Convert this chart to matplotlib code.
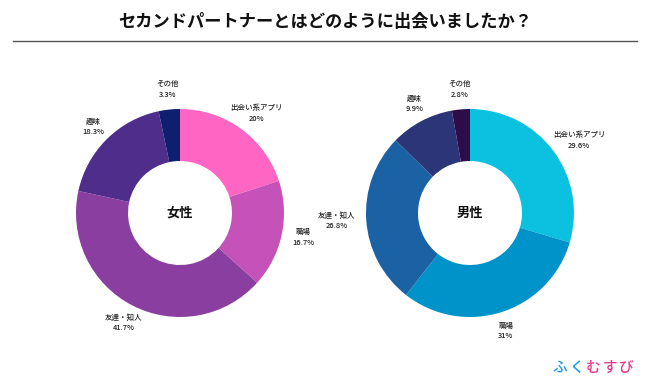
import numpy as np
import matplotlib
matplotlib.use("Agg")
import matplotlib.pyplot as plt

plt.rcParams['font.family'] = ['Noto Sans CJK JP', 'DejaVu Sans']

title = "セカンドパートナーとはどのように出会いましたか？"
categories = ["出会い系アプリ", "職場", "友達・知人", "趣味", "その他"]
female_vals = [20, 16.7, 41.7, 18.3, 3.3]
female_pct = ["20%", "16.7%", "41.7%", "18.3%", "3.3%"]
male_vals = [29.6, 31, 26.8, 9.9, 2.8]
male_pct = ["29.6%", "31%", "26.8%", "9.9%", "2.8%"]

female_colors = ["#FF66C4", "#C452B8", "#8A3FA0", "#4F2D8A", "#0D1F6E"]
male_colors = ["#0CC0DF", "#0093C9", "#1A62A3", "#2B3578", "#2E0C4A"]

W, H = 650, 390
fig = plt.figure(figsize=(6.5, 3.9), dpi=100)
ax = fig.add_axes([0, 0, 1, 1])

fig.text(0.5, 1 - 22 / H, title, ha='center', va='center',
         fontsize=12.4, fontweight='bold', color='#111111')
ax.plot([13, 637], [H - 41, H - 41], color='#555555', lw=1)

R = 104
label_r = 115


def donut(cx, cy, vals, colors, pct, center_text):
    wedges, _ = ax.pie(vals, colors=colors, startangle=90, counterclock=False,
                       radius=R, center=(cx, cy),
                       wedgeprops=dict(width=R * 0.5, linewidth=0),
                       frame=True)
    ax.text(cx, cy, center_text, ha='center', va='center',
            fontsize=9.5, fontweight='bold', color='#111111')
    texts = []
    for w, cat, p in zip(wedges, categories, pct):
        ang = np.deg2rad((w.theta1 + w.theta2) / 2)
        t = ax.text(cx, cy, cat + "\n" + p, ha='center', va='center',
                    fontsize=5.4, fontweight='medium', color='#222222',
                    linespacing=1.45)
        texts.append((t, ang))
    return texts


labels = donut(180, H - 213, female_vals, female_colors, female_pct, "女性")
labels += donut(470, H - 213, male_vals, male_colors, male_pct, "男性")
ax.set_xlim(0, W)
ax.set_ylim(0, H)
ax.set_aspect('equal')
ax.axis('off')

fig.canvas.draw()
r = fig.canvas.get_renderer()
for t, ang in labels:
    bb = t.get_window_extent(r)
    hw, hh = bb.width / 2, bb.height / 2
    cx, cy = t.get_position()
    t.set_position((cx + (label_r + hw * abs(np.cos(ang))) * np.cos(ang),
                    cy + (label_r + hh * abs(np.sin(ang))) * np.sin(ang)))

logo = [("ふ", "#1E9BE0"), ("く", "#1E9BE0"), ("む", "#E5398C"),
        ("す", "#E5398C"), ("び", "#E5398C")]
for i, (ch, c) in enumerate(logo):
    fig.text((560 + i * 16.5) / W, 1 - 368 / H, ch, ha='center', va='center',
             fontsize=10.5, fontweight='medium', color=c)

fig.savefig("out.png", dpi=100, facecolor='white')
